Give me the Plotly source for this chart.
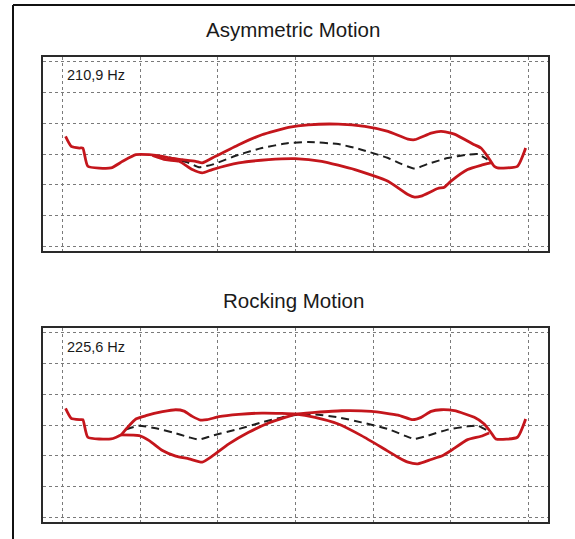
import plotly.graph_objects as go

# ---------------- data (grid units) ----------------
# Top panel: Asymmetric Motion, 210,9 Hz
asym_outer_x = [0.034, 0.107, 0.214, 0.257, 0.321, 0.620, 0.770, 0.941, 1.113, 1.284,
                1.369, 1.540, 1.712, 1.797, 1.968, 2.268, 2.567, 2.910, 3.166, 3.552,
                3.894, 4.193, 4.450, 4.536, 4.750, 4.878, 5.049, 5.306, 5.392, 5.477,
                5.563, 5.605, 5.862, 5.969]
asym_outer_y = [3.573, 3.249, 3.195, 3.195, 2.600, 2.546, 2.762, 2.978, 2.978, 2.924,
                2.870, 2.816, 2.762, 2.708, 2.924, 3.303, 3.627, 3.865, 3.951, 3.973,
                3.897, 3.735, 3.486, 3.465, 3.681, 3.735, 3.649, 3.303, 3.195, 2.924,
                2.600, 2.546, 2.600, 3.195]
asym_inner_x = [1.155, 1.326, 1.498, 1.669, 1.797, 1.926, 2.268, 2.653, 2.995, 3.338,
                3.765, 4.193, 4.450, 4.536, 4.621, 4.835, 4.921, 5.006, 5.220, 5.392, 5.520]
asym_inner_y = [2.957, 2.816, 2.762, 2.492, 2.384, 2.492, 2.708, 2.816, 2.849, 2.762,
                2.492, 2.114, 1.681, 1.595, 1.627, 1.876, 1.919, 2.114, 2.492, 2.632, 2.708]
asym_rest_x = [1.369, 1.626, 1.754, 1.926, 2.268, 2.567, 2.910, 3.166, 3.552, 3.851,
               4.193, 4.365, 4.536, 4.707, 4.964, 5.220, 5.349, 5.477]
asym_rest_y = [2.892, 2.708, 2.568, 2.654, 2.978, 3.195, 3.357, 3.389, 3.324, 3.141,
               2.870, 2.676, 2.524, 2.676, 2.870, 2.978, 3.000, 2.816]

# Bottom panel: Rocking Motion, 225,6 Hz
rock_a_x = [0.034, 0.107, 0.214, 0.257, 0.321, 0.620, 0.749, 0.834, 0.941, 1.070,
            1.284, 1.455, 1.562, 1.669, 1.776, 1.861, 2.011, 2.268, 2.567, 2.824,
            3.004, 3.252, 3.552, 3.851, 4.108, 4.322, 4.450, 4.579, 4.750, 4.900,
            5.006, 5.220, 5.392, 5.498]
rock_a_y = [3.541, 3.216, 3.173, 3.173, 2.600, 2.546, 2.676, 2.924, 3.195, 3.303,
            3.432, 3.497, 3.454, 3.281, 3.162, 3.173, 3.270, 3.346, 3.389, 3.378,
            3.357, 3.249, 3.032, 2.654, 2.276, 1.951, 1.789, 1.735, 1.876, 2.005,
            2.168, 2.524, 2.632, 2.741]
rock_b_x = [0.749, 0.984, 1.113, 1.284, 1.455, 1.626, 1.797, 1.926, 2.140, 2.396,
            2.653, 2.867, 3.004, 3.252, 3.594, 3.979, 4.322, 4.514, 4.621, 4.750,
            4.878, 5.049, 5.306, 5.434, 5.520, 5.584, 5.862, 5.969]
rock_b_y = [2.676, 2.654, 2.492, 2.168, 1.984, 1.897, 1.789, 1.984, 2.384, 2.762,
            3.065, 3.249, 3.357, 3.411, 3.465, 3.443, 3.324, 3.173, 3.249, 3.443,
            3.497, 3.465, 3.249, 3.032, 2.762, 2.546, 2.600, 3.195]
rock_rest_x = [0.813, 0.984, 1.198, 1.412, 1.626, 1.754, 1.926, 2.268, 2.567, 2.824,
               3.004, 3.252, 3.552, 3.851, 4.193, 4.407, 4.536, 4.707, 4.964, 5.220,
               5.349, 5.477]
rock_rest_y = [2.849, 2.978, 2.892, 2.762, 2.600, 2.524, 2.654, 2.870, 3.086, 3.249,
               3.324, 3.346, 3.249, 3.086, 2.870, 2.654, 2.546, 2.654, 2.849, 2.957,
               2.978, 2.816]

titles = ["Asymmetric Motion", "Rocking Motion"]
freq_labels = ["210,9 Hz", "225,6 Hz"]

# ---------------- figure ----------------
W, H = 575, 539
RED = "#c4161c"
DASH = "#1e1e1e"

fig = go.Figure()

def red(x, y, xa, ya):
    fig.add_trace(go.Scatter(x=x, y=y, mode="lines", xaxis=xa, yaxis=ya,
                             line=dict(color=RED, width=2.8, shape="spline",
                                       smoothing=0.5),
                             hoverinfo="skip", showlegend=False))

def dashed(x, y, xa, ya):
    fig.add_trace(go.Scatter(x=x, y=y, mode="lines", xaxis=xa, yaxis=ya,
                             line=dict(color=DASH, width=2, dash="8px,5px",
                                       shape="spline", smoothing=0.5),
                             hoverinfo="skip", showlegend=False))

dashed(asym_rest_x, asym_rest_y, "x", "y")
red(asym_outer_x, asym_outer_y, "x", "y")
red(asym_inner_x, asym_inner_y, "x", "y")

dashed(rock_rest_x, rock_rest_y, "x2", "y2")
red(rock_a_x, rock_a_y, "x2", "y2")
red(rock_b_x, rock_b_y, "x2", "y2")

def px_dom_x(a, b):
    return [a / W, b / W]

def px_dom_y(top, bottom):
    return [1 - bottom / H, 1 - top / H]

xcommon = dict(range=[-0.257, 6.257], tick0=0, dtick=1, showticklabels=False,
               ticks="", showgrid=True, gridcolor="#7a7a7a", gridwidth=1,
               griddash="dot", zeroline=False, showline=True, mirror=True,
               linecolor="#2a2a2a", linewidth=2, fixedrange=True)
ycommon = dict(range=[-0.161, 6.161], tick0=0, dtick=1, showticklabels=False,
               ticks="", showgrid=True, gridcolor="#7a7a7a", gridwidth=1,
               griddash="dot", zeroline=False, showline=True, mirror=True,
               linecolor="#2a2a2a", linewidth=2, fixedrange=True)

fig.update_layout(
    width=W, height=H,
    margin=dict(l=0, r=0, t=0, b=0),
    paper_bgcolor="white", plot_bgcolor="white",
    xaxis=dict(domain=px_dom_x(43, 548), anchor="y", **xcommon),
    yaxis=dict(domain=px_dom_y(57, 251), anchor="x", **ycommon),
    xaxis2=dict(domain=px_dom_x(43, 548), anchor="y2", **xcommon),
    yaxis2=dict(domain=px_dom_y(328, 522), anchor="x2", **ycommon),
    font=dict(family="Liberation Sans, Arial, sans-serif", color="#1a1a1a"),
)

# outer frame (cropped: top and left edges visible)
fig.add_shape(type="line", xref="paper", yref="paper",
              x0=13 / W, y0=1 - 5 / H, x1=1.0, y1=1 - 5 / H,
              line=dict(color="#111111", width=2))
fig.add_shape(type="line", xref="paper", yref="paper",
              x0=13 / W, y0=1 - 5 / H, x1=13 / W, y1=0,
              line=dict(color="#111111", width=2))

title_y = [30, 300]
label_y = [75, 347]
for i in range(2):
    fig.add_annotation(text=titles[i], xref="paper", yref="paper",
                       x=293 / W, y=1 - title_y[i] / H, showarrow=False,
                       xanchor="center", yanchor="middle",
                       font=dict(size=20.5, color="#1a1a1a"))
    fig.add_annotation(text=freq_labels[i], xref="paper", yref="paper",
                       x=65 / W, y=1 - label_y[i] / H, showarrow=False,
                       xanchor="left", yanchor="middle",
                       font=dict(size=14.5, color="#1a1a1a"))

fig.write_html("out.html")
